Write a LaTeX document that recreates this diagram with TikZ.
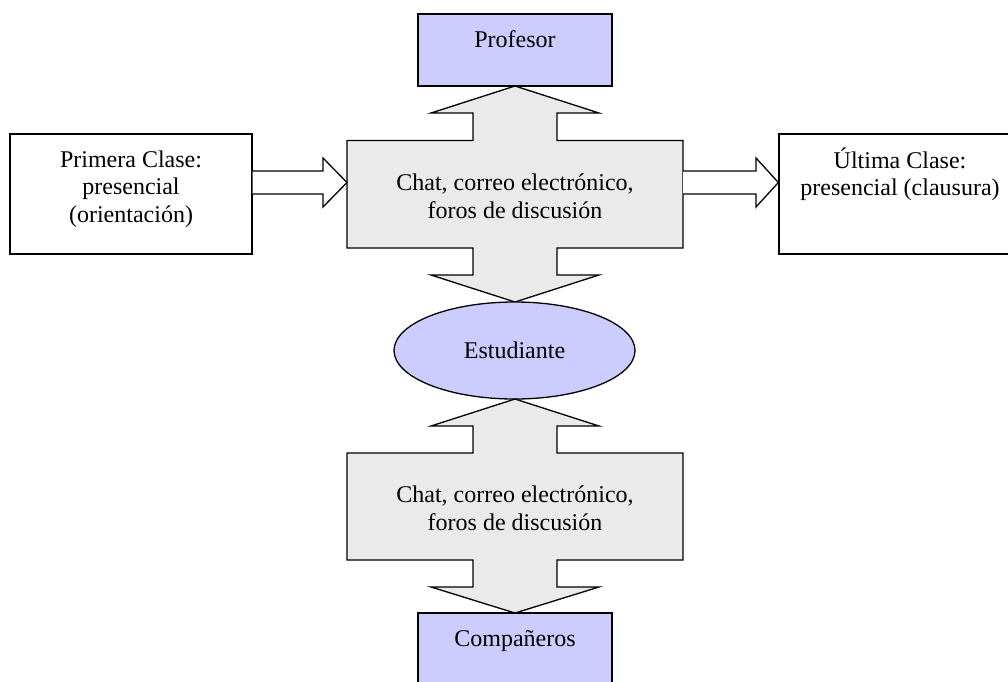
\documentclass[tikz,border=0pt]{standalone}
\usepackage{fontspec}
\setmainfont{Liberation Serif}
\usetikzlibrary{shapes.geometric}
\definecolor{lav}{HTML}{CCCCFF}
\definecolor{pale}{HTML}{EAEAEA}
\begin{document}
\begin{tikzpicture}[x=1pt,y=-1pt, line width=1.3pt, line join=miter,
  every node/.style={font=\fontsize{24}{27.6}\selectfont},
  box/.style={draw, rectangle, inner sep=0pt, minimum width=242pt, minimum height=120pt, fill=white},
  lavbox/.style={draw, rectangle, inner sep=0pt, fill=lav, minimum width=194pt, minimum height=72pt},
  txt/.style={inner sep=0pt, align=center, anchor=north},
  callout/.style={draw, fill=pale},
  blockarrow/.style={draw, fill=white}]
\useasboundingbox (0,0) rectangle (1008,681);
\clip (0,0) rectangle (1008,681);
\fill[white] (0,0) rectangle (1008,681);

% top box
\node[lavbox] (prof) at (515,50) {};
\node[txt] (proft) at ([yshift=-13.68pt]prof.north) {\strut Profesor};

% upper callout (double arrow with body)
\path[callout] (515,86) -- (599,113) -- (557,113) -- (557,140.5) -- (683,140.5)
  -- (683,248) -- (557,248) -- (557,275) -- (599,275) -- (515,302) -- (431,275)
  -- (473,275) -- (473,248) -- (347,248) -- (347,140.5) -- (473,140.5)
  -- (473,113) -- (431,113) -- cycle;
\node[txt] (chat1) at (515,170.68) {\strut Chat, correo electrónico,\\\strut foros de discusión};

% student
\node[draw, ellipse, fill=lav, inner sep=0pt, minimum width=241pt, minimum height=97pt] (est) at (514.5,350.5) {Estudiante};

% lower callout
\path[callout] (515,399) -- (599,426) -- (557,426) -- (557,453) -- (683,453)
  -- (683,560) -- (557,560) -- (557,587) -- (599,587) -- (515,613) -- (431,587)
  -- (473,587) -- (473,560) -- (347,560) -- (347,453) -- (473,453)
  -- (473,426) -- (431,426) -- cycle;
\node[txt] (chat2) at (515,482.68) {\strut Chat, correo electrónico,\\\strut foros de discusión};

% bottom box
\node[lavbox] (comp) at (515,649) {};
\node[txt] (compt) at ([yshift=-13.68pt]comp.north) {\strut Compañeros};

% side boxes
\node[box] (prim) at (131,194) {};
\node[txt] (primt) at ([yshift=-13.68pt]prim.north) {\strut Primera Clase:\\\strut presencial\\\strut (orientación)};
\node[box] (ult) at (900,194) {};
\node[txt] (ultt) at ([yshift=-13.68pt]ult.north) {\strut Última Clase:\\\strut presencial (clausura)};

% block arrows
\coordinate (b1w) at (347,182.5);
\coordinate (b1e) at (683,182.5);
\path[blockarrow] (prim.east |- 0,171) -- (323,171) -- (323,158) -- (b1w)
  -- (323,207) -- (323,194) -- (prim.east |- 0,194);
\path[blockarrow] (b1e |- 0,171) -- (756,171) -- (756,158) -- (ult.west |- 0,182.5)
  -- (756,207) -- (756,194) -- (b1e |- 0,194);
\end{tikzpicture}
\end{document}
